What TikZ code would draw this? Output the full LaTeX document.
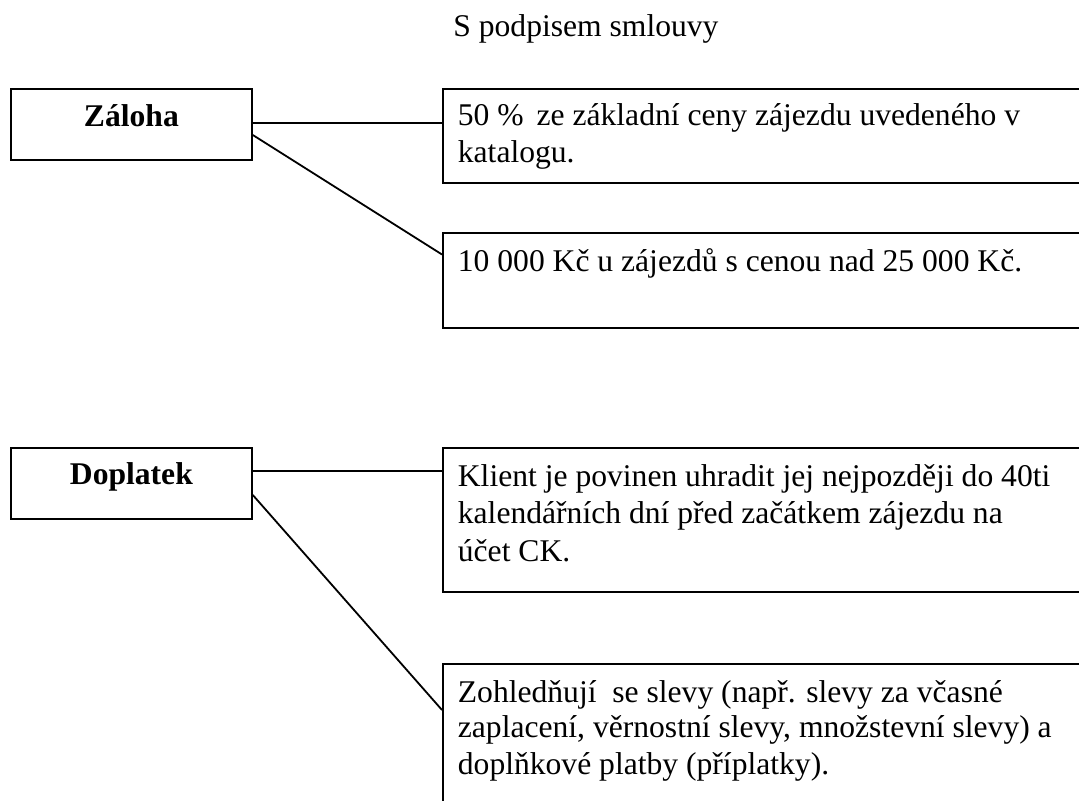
\documentclass[tikz,border=0pt]{standalone}
\usepackage{fontspec}
\setmainfont{Liberation Serif}
\begin{document}
\begin{tikzpicture}[x=0.5pt,y=-0.5pt,
  lbox/.style={draw, line width=0.9pt, inner sep=0pt, anchor=north west,
    font=\bfseries\fontsize{15.8}{18}\selectfont},
  tbox/.style={draw, line width=0.9pt, inner xsep=7.5pt, inner ysep=0pt, anchor=north west,
    font=\fontsize{15.8}{18}\selectfont},
  conn/.style={line width=0.9pt},
  ttl/.style={inner sep=0pt, anchor=base west, font=\fontsize{15.8}{18}\selectfont}]
\useasboundingbox (0,0) rectangle (1079,801);
\clip (0,0) rectangle (1079,801);

\node[ttl] (title) at (453,36.5) {S podpisem smlouvy};

\node[lbox] (zal) at (10,88) {\parbox[c][35.5pt][t]{120.5pt}{\centering\rule{0pt}{18.7pt}Záloha}};
\node[lbox] (dop) at (10,447) {\parbox[c][35.5pt][t]{120.5pt}{\centering\rule{0pt}{18.2pt}Doplatek}};

\node[tbox] (b1) at (442,88) {\parbox[c][47pt][t]{320pt}{\raggedright\rule{0pt}{18.5pt}50~\%\hspace{2.5pt} ze základní ceny zájezdu uvedeného v\\[0.5pt]katalogu.}};
\node[tbox] (b2) at (442,232) {\parbox[c][47.5pt][t]{320pt}{\raggedright\rule{0pt}{19.35pt}10 000 Kč u zájezdů s cenou nad 25 000 Kč.}};
\node[tbox] (b3) at (442,447) {\parbox[c][72pt][t]{320pt}{\raggedright\rule{0pt}{19.25pt}Klient je povinen uhradit jej nejpozději do 40ti\\[0.5pt]kalendářních dní před začátkem zájezdu na\\[1pt]účet CK.}};
\node[tbox] (b4) at (442,663) {\parbox[c][90pt][t]{320pt}{\raggedright\rule{0pt}{19.35pt}Zohledňují\ \ se slevy (např. slevy za včasné\\[-0.5pt]zaplacení, věrnostní slevy, množstevní slevy) a\\[0.3pt]doplňkové platby (příplatky).}};

\draw[conn] ([yshift=-17.5pt]zal.north east) -- ([yshift=-17.5pt]b1.north west);
\draw[conn] ([yshift=-23.5pt]zal.north east) -- ([yshift=-11.25pt]b2.north west);
\draw[conn] ([yshift=-12pt]dop.north east) -- ([yshift=-12pt]b3.north west);
\draw[conn] ([yshift=-24pt]dop.north east) -- ([yshift=-23.5pt]b4.north west);
\end{tikzpicture}
\end{document}
